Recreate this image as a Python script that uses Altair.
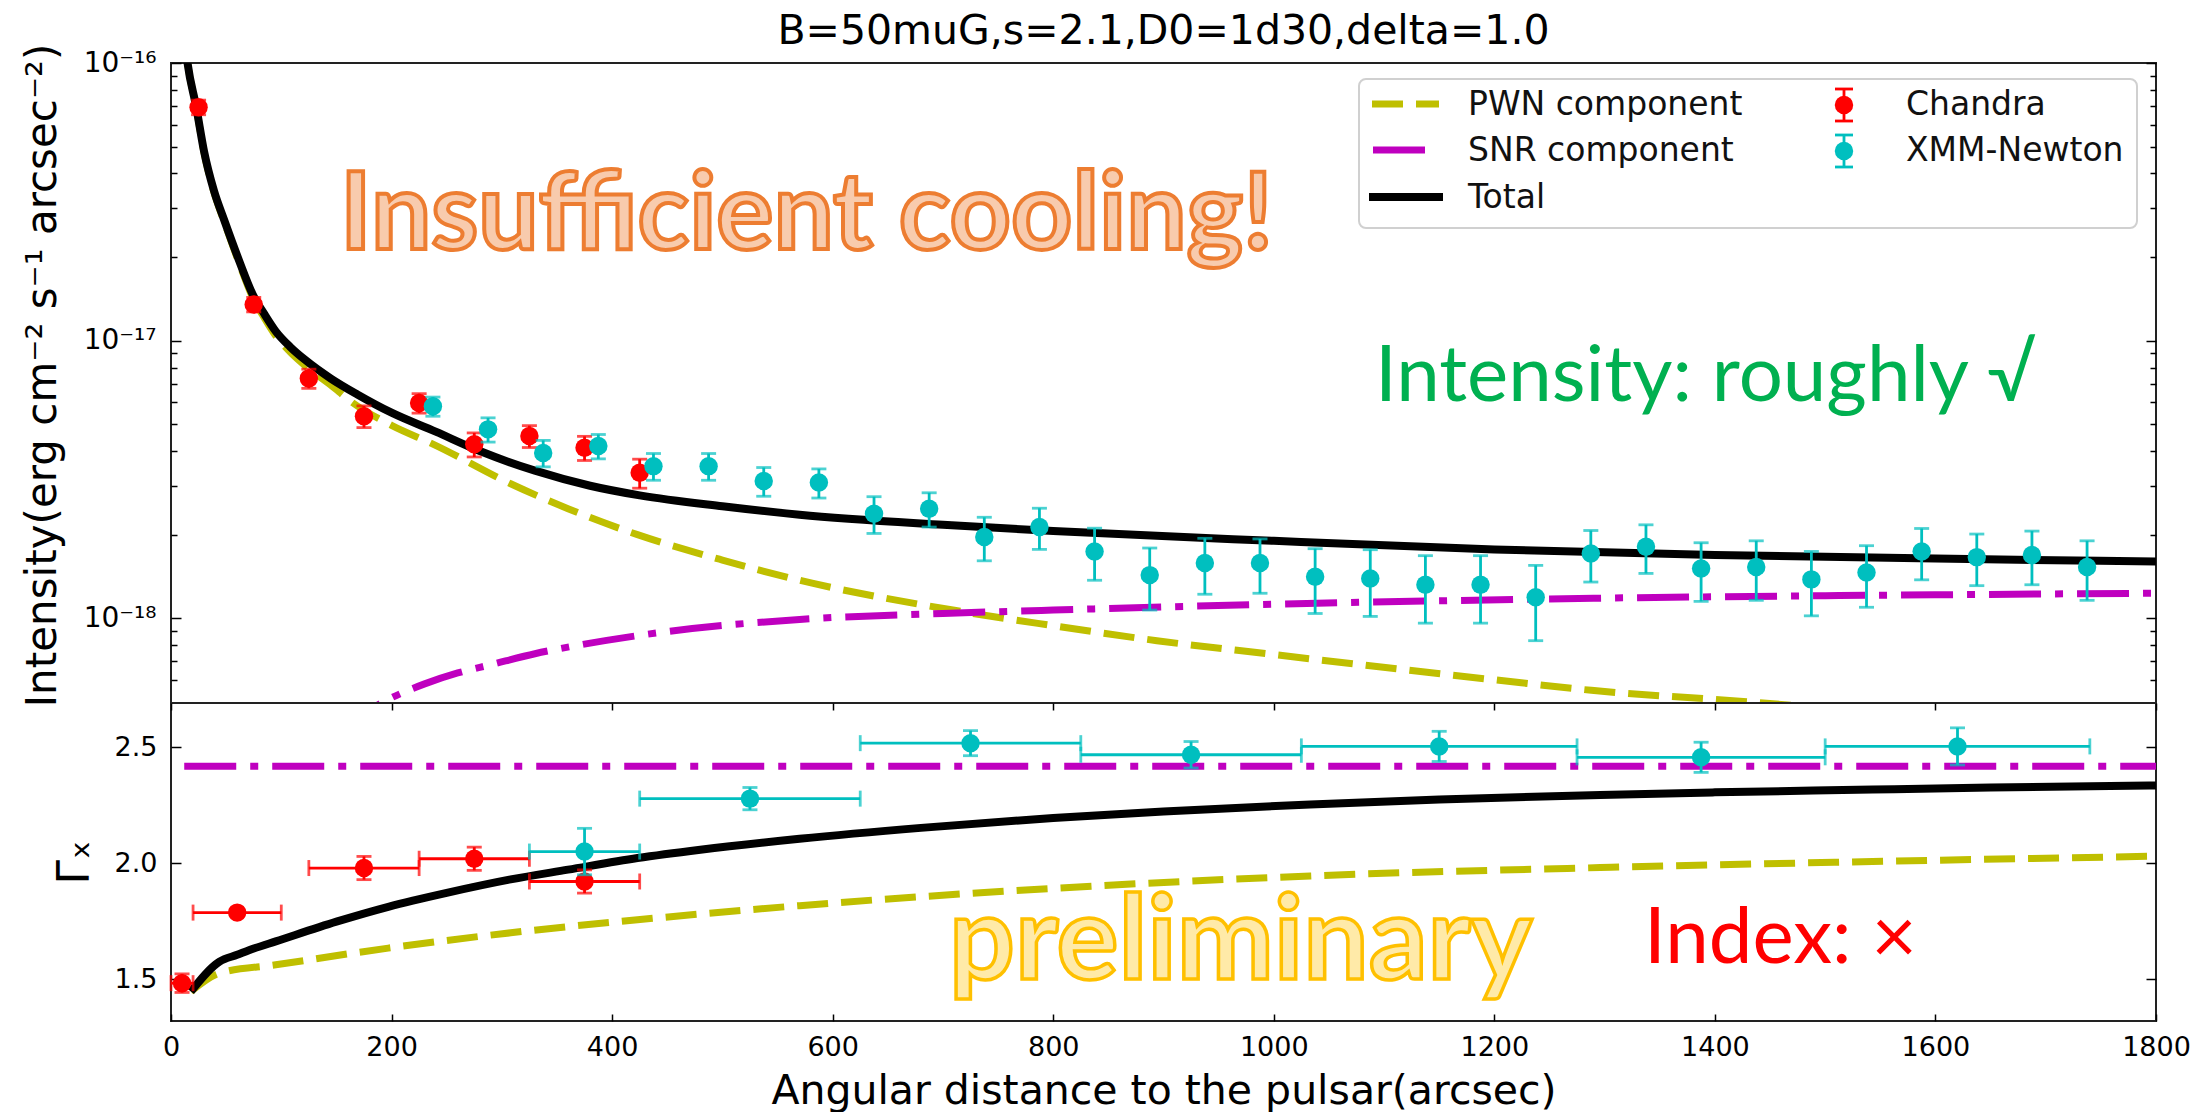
import altair as alt
import pandas as pd

# ---------------- upper panel: surface-brightness profile ----------------
chandra_r = [25, 75, 125, 175, 225, 275, 325, 375, 425]
chandra_I = [6.93e-17, 1.35e-17, 7.31e-18, 5.34e-18, 5.96e-18, 4.23e-18, 4.53e-18, 4.11e-18, 3.34e-18]
chandra_I_err = [4.2e-18, 8.1e-19, 5.8e-19, 4.8e-19, 4.8e-19, 4.2e-19, 4.1e-19, 4.1e-19, 4.0e-19]

xmm_r = [237.5, 287.5, 337.5, 387.5, 437.5, 487.5, 537.5, 587.5, 637.5, 687.5, 737.5,
         787.5, 837.5, 887.5, 937.5, 987.5, 1037.5, 1087.5, 1137.5, 1187.5, 1237.5,
         1287.5, 1337.5, 1387.5, 1437.5, 1487.5, 1537.5, 1587.5, 1637.5, 1687.5, 1737.5]
xmm_I = [5.80e-18, 4.79e-18, 3.94e-18, 4.17e-18, 3.53e-18, 3.53e-18, 3.12e-18, 3.08e-18,
         2.38e-18, 2.48e-18, 1.96e-18, 2.13e-18, 1.74e-18, 1.43e-18, 1.58e-18, 1.58e-18,
         1.41e-18, 1.39e-18, 1.32e-18, 1.32e-18, 1.19e-18, 1.71e-18, 1.81e-18, 1.51e-18,
         1.53e-18, 1.38e-18, 1.46e-18, 1.74e-18, 1.66e-18, 1.69e-18, 1.53e-18]
xmm_I_err = [4.6e-19, 4.8e-19, 4.3e-19, 4.2e-19, 3.9e-19, 3.9e-19, 3.7e-19, 3.7e-19,
             3.6e-19, 3.5e-19, 3.5e-19, 3.6e-19, 3.7e-19, 3.6e-19, 3.6e-19, 3.5e-19,
             3.7e-19, 3.75e-19, 3.6e-19, 3.6e-19, 3.6e-19, 3.6e-19, 3.6e-19, 3.6e-19,
             3.7e-19, 3.6e-19, 3.65e-19, 3.65e-19, 3.5e-19, 3.7e-19, 3.7e-19]

total_r = [10, 15, 23, 30, 39, 48.5, 62, 74, 85, 95, 108, 122, 145, 169, 200, 240, 280,
           330, 380, 425, 500, 570, 700, 800, 1000, 1200, 1400, 1600, 1800]
total_I = [1.5e-16, 1.0e-16, 6.9e-17, 4.8e-17, 3.46e-17, 2.7e-17, 1.93e-17, 1.47e-17,
           1.24e-17, 1.08e-17, 9.5e-18, 8.5e-18, 7.3e-18, 6.4e-18, 5.5e-18, 4.7e-18, 4.0e-18,
           3.4e-18, 3.0e-18, 2.77e-18, 2.53e-18, 2.36e-18, 2.17e-18, 2.06e-18, 1.9e-18,
           1.77e-18, 1.69e-18, 1.64e-18, 1.60e-18]

pwn_r = [10, 15, 23, 30, 39, 48.5, 62, 74, 85, 95, 108, 122, 145, 164, 200, 238, 308, 360,
         423, 500, 570, 709, 800, 894, 1000, 1079, 1200, 1288, 1430, 1600, 1800]
pwn_I = [1.5e-16, 1.0e-16, 6.85e-17, 4.75e-17, 3.42e-17, 2.66e-17, 1.89e-17, 1.43e-17,
         1.2e-17, 1.04e-17, 9.1e-18, 8.1e-18, 6.9e-18, 6.0e-18, 4.95e-18, 4.23e-18, 3.05e-18,
         2.48e-18, 2.0e-18, 1.62e-18, 1.37e-18, 1.07e-18, 9.4e-19, 8.3e-19, 7.4e-19,
         6.8e-19, 6.0e-19, 5.5e-19, 5.0e-19, 4.4e-19, 3.8e-19]

snr_r = [150, 197, 230, 260, 290, 330, 370, 450, 570, 700, 800, 1030, 1290, 1500, 1800]
snr_I = [3.9e-19, 5.1e-19, 5.8e-19, 6.35e-19, 6.8e-19, 7.45e-19, 8.0e-19, 8.95e-19,
         9.9e-19, 1.04e-18, 1.07e-18, 1.13e-18, 1.18e-18, 1.205e-18, 1.23e-18]

# ---------------- lower panel: photon index ----------------
chandra_g_r = [10, 60, 175, 275, 375]
chandra_g_dr = [10, 40, 50, 50, 50]
chandra_g = [1.483, 1.787, 1.979, 2.019, 1.921]
chandra_g_err = [0.04, 0.015, 0.05, 0.05, 0.05]

xmm_g_r = [375, 525, 725, 925, 1150, 1387.5, 1620]
xmm_g_dr = [50, 100, 100, 100, 125, 112.5, 120]
xmm_g = [2.05, 2.278, 2.517, 2.467, 2.503, 2.456, 2.503]
xmm_g_err = [0.10, 0.048, 0.054, 0.057, 0.065, 0.065, 0.08]

total_g_r = [18, 44, 60, 75, 95, 150, 197, 250, 308, 360, 423, 480, 570, 680, 800, 900,
             1033, 1150, 1296, 1400, 1543, 1650, 1800]
total_g = [1.447, 1.576, 1.605, 1.632, 1.663, 1.748, 1.812, 1.872, 1.930, 1.972, 2.022,
           2.058, 2.105, 2.152, 2.195, 2.223, 2.253, 2.274, 2.294, 2.305, 2.317, 2.326, 2.335]

pwn_g_r = [18, 44, 95, 197, 308, 423, 570, 802, 1033, 1296, 1543, 1800]
pwn_g = [1.447, 1.526, 1.562, 1.634, 1.700, 1.756, 1.817, 1.892, 1.945, 1.981, 2.007, 2.03]

snr_g_r = [12, 1800]
snr_g = [2.417, 2.417]

x_ticks = [0, 200, 400, 600, 800, 1000, 1200, 1400, 1600, 1800]
i_major = [1e-18, 1e-17, 1e-16]
i_minor = [6e-19, 7e-19, 8e-19, 9e-19] + [k * 1e-18 for k in range(2, 10)] + [k * 1e-17 for k in range(2, 10)]
g_ticks = [1.5, 2.0, 2.5]

legend_labels = ["PWN component", "SNR component", "Total", "Chandra", "XMM-Newton"]

# ---------------- styling ----------------
W, H_TOP, H_BOT = 1985, 640, 318
FONT = "DejaVu Sans"
ANNOT = "Lato"
C_PWN, C_SNR, C_TOT = "#bfbf00", "#bf00bf", "black"
C_CH, C_XMM = "#ff0000", "#00bfbf"
DASH_PWN = [31, 13]
DASH_SNR = [52, 14, 8, 14]
LW_TOT, LW_COMP = 8, 7
MSIZE = 340

x_scale = alt.Scale(domain=[0, 1800], nice=False, zero=False)
i_scale = alt.Scale(type="log", domain=[4.95e-19, 1e-16], nice=False)
g_scale = alt.Scale(domain=[1.32, 2.69], nice=False, zero=False)


def tick_axis(orient, values, size, offset):
    """Bare inward-pointing ticks along one edge of the frame."""
    return alt.Axis(orient=orient, offset=offset, values=values, tickSize=size,
                    tickWidth=1.5, tickColor="black", labels=False, domain=False,
                    grid=False, title=None)


exp = "round(log(datum.value)/LN10)"
intensity_axis = alt.Axis(
    orient="right", offset=-W, values=i_major, tickSize=10, tickWidth=1.5,
    tickColor="black", domain=False, grid=False,
    labelExpr=f"{exp} == -16 ? '10⁻¹⁶' : {exp} == -17 ? '10⁻¹⁷' : '10⁻¹⁸'",
    labelPadding=-25, labelAlign="right", labelBaseline="middle", labelFont=FONT,
    labelFontSize=28, labelColor="black", labelOverlap=False, labelFlush=False,
    title="Intensity(erg cm⁻² s⁻¹ arcsec⁻²)", titleFont=FONT, titleFontSize=42,
    titleFontWeight="normal", titleColor="black", titleAngle=270, titleX=-116,
    titleY=312, titleAlign="center", titleBaseline="alphabetic")

index_axis = alt.Axis(
    orient="right", offset=-W, values=g_ticks, tickSize=10, tickWidth=1.5,
    tickColor="black", domain=False, grid=False, format=".1f",
    labelPadding=-24, labelAlign="right", labelBaseline="middle", labelFont=FONT,
    labelFontSize=27, labelColor="black", labelOverlap=False, labelFlush=False,
    title="Γₓ", titleFont=FONT, titleFontSize=44, titleFontWeight="normal",
    titleColor="black", titleAngle=270, titleX=-83, titleY=H_BOT / 2,
    titleAlign="center", titleBaseline="alphabetic")

dist_axis = alt.Axis(
    orient="top", offset=-H_BOT, values=x_ticks, tickSize=7, tickWidth=1.5,
    tickColor="black", domain=False, grid=False, format="d",
    labelPadding=-20, labelAlign="center", labelBaseline="top", labelFont=FONT,
    labelFontSize=27, labelColor="black", labelOverlap=False, labelFlush=False,
    title="Angular distance to the pulsar(arcsec)", titleFont=FONT, titleFontSize=41,
    titleFontWeight="normal", titleColor="black", titleAngle=0, titleX=W / 2,
    titleY=82, titleAlign="center", titleBaseline="alphabetic")


def frame(df):
    return alt.Chart(pd.DataFrame(df))


one = pd.DataFrame({"k": [0]})


def hline(x1, x2, y, color, width, dash=None):
    kw = dict(color=color, strokeWidth=width)
    if dash:
        kw["strokeDash"] = dash
    return alt.Chart(one).mark_rule(**kw).encode(x=alt.value(x1), x2=alt.value(x2), y=alt.value(y))


def vline(x, y1, y2, color, width):
    return alt.Chart(one).mark_rule(color=color, strokeWidth=width).encode(
        x=alt.value(x), y=alt.value(y1), y2=alt.value(y2))


def text(x, y, s, size, font=FONT, align="left", baseline="middle", **kw):
    return alt.Chart(one).mark_text(text=s, font=font, fontSize=size, align=align,
                                    baseline=baseline, **kw).encode(x=alt.value(x), y=alt.value(y))


# ---------------- upper panel ----------------
ch = pd.DataFrame({"r": chandra_r, "I": chandra_I, "e": chandra_I_err})
ch["lo"], ch["hi"] = ch.I - ch.e, ch.I + ch.e
xm = pd.DataFrame({"r": xmm_r, "I": xmm_I, "e": xmm_I_err})
xm["lo"], xm["hi"] = xm.I - xm.e, xm.I + xm.e

pwn_line = frame({"r": pwn_r, "I": pwn_I}).mark_line(
    color=C_PWN, strokeWidth=LW_COMP, strokeDash=DASH_PWN, clip=True, interpolate="monotone"
).encode(x=alt.X("r:Q", scale=x_scale, axis=tick_axis("top", x_ticks, 7, -H_TOP)),
         y=alt.Y("I:Q", scale=i_scale, axis=intensity_axis))

snr_line = frame({"r": snr_r, "I": snr_I}).mark_line(
    color=C_SNR, strokeWidth=LW_COMP, strokeDash=DASH_SNR, clip=True, interpolate="monotone"
).encode(x=alt.X("r:Q", scale=x_scale, axis=None),
         y=alt.Y("I:Q", scale=i_scale, axis=tick_axis("left", i_major, 10, -W)))

total_line = frame({"r": total_r, "I": total_I}).mark_line(
    color=C_TOT, strokeWidth=LW_TOT, clip=True, interpolate="monotone"
).encode(x=alt.X("r:Q", scale=x_scale, axis=None),
         y=alt.Y("I:Q", scale=i_scale, axis=tick_axis("right", i_minor, 6, -W)))

ch_pts = alt.Chart(ch).mark_circle(size=MSIZE, opacity=1, color=C_CH).encode(
    x=alt.X("r:Q", scale=x_scale, axis=None),
    y=alt.Y("I:Q", scale=i_scale, axis=tick_axis("left", i_minor, 6, -W)))
ch_err = alt.Chart(ch).mark_errorbar(ticks=True, size=15, thickness=2.8).encode(
    x=alt.X("r:Q", scale=x_scale, axis=None),
    y=alt.Y("lo:Q", scale=i_scale, axis=None), y2="hi:Q", color=alt.value(C_CH))

xm_pts = alt.Chart(xm).mark_circle(size=MSIZE, opacity=1, color=C_XMM).encode(
    x=alt.X("r:Q", scale=x_scale, axis=None),
    y=alt.Y("I:Q", scale=i_scale, axis=None))
xm_err = alt.Chart(xm).mark_errorbar(ticks=True, size=15, thickness=2.8).encode(
    x=alt.X("r:Q", scale=x_scale, axis=None),
    y=alt.Y("lo:Q", scale=i_scale, axis=None), y2="hi:Q", color=alt.value(C_XMM))

legend = [
    alt.Chart(one).mark_rect(cornerRadius=7, fill="white", fillOpacity=0.85,
                             stroke="#d0d0d0", strokeWidth=2).encode(
        x=alt.value(1188), x2=alt.value(1966), y=alt.value(16), y2=alt.value(165)),
    hline(1201, 1268, 41, C_PWN, LW_COMP, DASH_PWN),
    hline(1202, 1255, 87, C_SNR, LW_COMP, DASH_SNR),
    hline(1198, 1272, 134, C_TOT, LW_TOT),
    text(1297, 42, legend_labels[0], 33, color="#111111"),
    text(1297, 88, legend_labels[1], 33, color="#111111"),
    text(1297, 135, legend_labels[2], 33, color="#111111"),
    vline(1673, 26, 58, C_CH, 2.8), hline(1664, 1682, 26, C_CH, 2.8), hline(1664, 1682, 58, C_CH, 2.8),
    alt.Chart(one).mark_circle(size=MSIZE, opacity=1, color=C_CH).encode(x=alt.value(1673), y=alt.value(42)),
    vline(1673, 72, 104, C_XMM, 2.8), hline(1664, 1682, 72, C_XMM, 2.8), hline(1664, 1682, 104, C_XMM, 2.8),
    alt.Chart(one).mark_circle(size=MSIZE, opacity=1, color=C_XMM).encode(x=alt.value(1673), y=alt.value(88)),
    text(1735, 42, legend_labels[3], 33, color="#111111"),
    text(1735, 88, legend_labels[4], 33, color="#111111"),
]

top_notes = [
    text(169, 186, "Insufficient cooling!", 107, font=ANNOT, baseline="alphabetic",
         fontWeight="bold", fill="#F8CBAD", stroke="#ED7D31", strokeWidth=4),
    text(1204, 338, "Intensity: roughly √", 78, font=ANNOT, baseline="alphabetic", color="#00B050"),
    text(W / 2, -19, "B=50muG,s=2.1,D0=1d30,delta=1.0", 41, align="center",
         baseline="alphabetic", color="black"),
]

top = alt.layer(pwn_line, snr_line, total_line, ch_err, ch_pts, xm_err, xm_pts,
                *legend, *top_notes).properties(width=W, height=H_TOP)

# ---------------- lower panel ----------------
chg = pd.DataFrame({"r": chandra_g_r, "dr": chandra_g_dr, "g": chandra_g, "e": chandra_g_err})
chg["rlo"], chg["rhi"] = chg.r - chg.dr, chg.r + chg.dr
chg["lo"], chg["hi"] = chg.g - chg.e, chg.g + chg.e
xmg = pd.DataFrame({"r": xmm_g_r, "dr": xmm_g_dr, "g": xmm_g, "e": xmm_g_err})
xmg["rlo"], xmg["rhi"] = xmg.r - xmg.dr, xmg.r + xmg.dr
xmg["lo"], xmg["hi"] = xmg.g - xmg.e, xmg.g + xmg.e

snr_idx = frame({"r": snr_g_r, "g": snr_g}).mark_line(
    color=C_SNR, strokeWidth=LW_COMP, strokeDash=DASH_SNR, clip=True
).encode(x=alt.X("r:Q", scale=x_scale, axis=dist_axis),
         y=alt.Y("g:Q", scale=g_scale, axis=index_axis))

pwn_idx = frame({"r": pwn_g_r, "g": pwn_g}).mark_line(
    color=C_PWN, strokeWidth=LW_COMP, strokeDash=DASH_PWN, clip=True, interpolate="monotone"
).encode(x=alt.X("r:Q", scale=x_scale, axis=None),
         y=alt.Y("g:Q", scale=g_scale, axis=tick_axis("left", g_ticks, 10, -W)))

total_idx = frame({"r": total_g_r, "g": total_g}).mark_line(
    color=C_TOT, strokeWidth=LW_TOT, clip=True, interpolate="monotone"
).encode(x=alt.X("r:Q", scale=x_scale, axis=tick_axis("bottom", x_ticks, 7, -H_BOT)),
         y=alt.Y("g:Q", scale=g_scale, axis=None))


def index_points(df, color):
    xe = alt.Chart(df).mark_errorbar(ticks=True, size=16, thickness=2.8).encode(
        x=alt.X("rlo:Q", scale=x_scale, axis=None), x2="rhi:Q",
        y=alt.Y("g:Q", scale=g_scale, axis=None), color=alt.value(color))
    ye = alt.Chart(df).mark_errorbar(ticks=True, size=15, thickness=2.8).encode(
        x=alt.X("r:Q", scale=x_scale, axis=None),
        y=alt.Y("lo:Q", scale=g_scale, axis=None), y2="hi:Q", color=alt.value(color))
    pts = alt.Chart(df).mark_circle(size=MSIZE, opacity=1, color=color).encode(
        x=alt.X("r:Q", scale=x_scale, axis=None),
        y=alt.Y("g:Q", scale=g_scale, axis=None))
    return [xe, ye, pts]


bottom_notes = [
    text(778, 276, "preliminary", 116, font=ANNOT, baseline="alphabetic", fontWeight="bold",
         fill="#FFE699", fillOpacity=0.85, stroke="#FFC000", strokeWidth=3.5),
    text(1473, 260, "Index: ×", 78, font=ANNOT, baseline="alphabetic", color="#FF0000"),
]

bottom = alt.layer(snr_idx, pwn_idx, total_idx, *index_points(chg, C_CH),
                   *index_points(xmg, C_XMM), *bottom_notes).properties(width=W, height=H_BOT)

chart = alt.vconcat(top, bottom, spacing=0, bounds="flush").properties(
    padding={"left": 19, "top": 10, "right": 0, "bottom": 0}, background="white"
).configure_view(stroke="#222222", strokeWidth=2)

chart.save("out.html", embed_options={"renderer": "svg", "actions": False})
